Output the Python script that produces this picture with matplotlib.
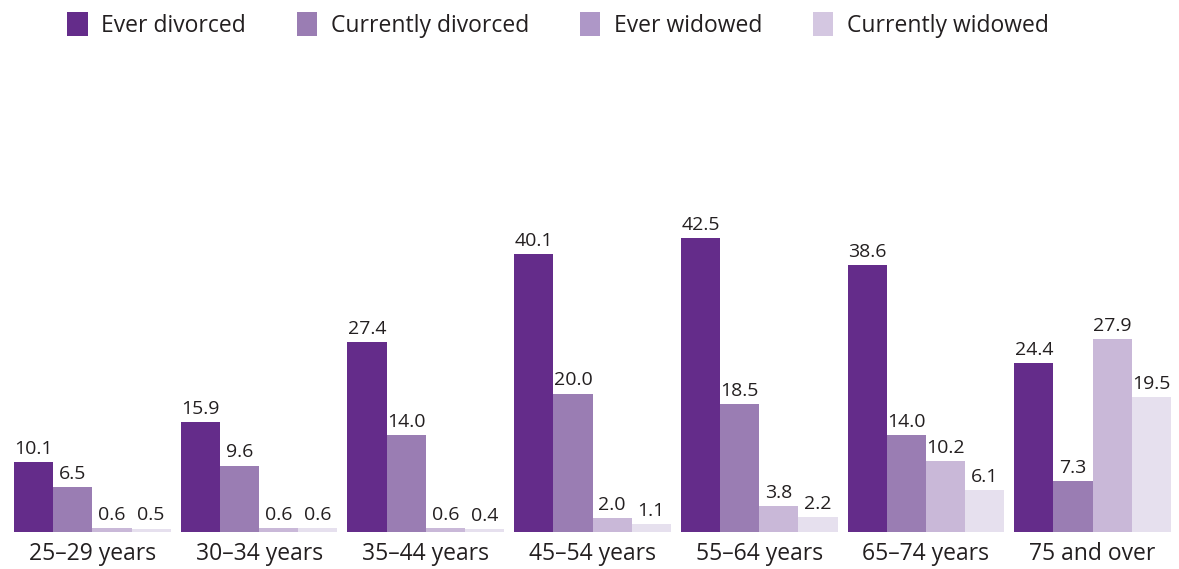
import numpy as np
import matplotlib
matplotlib.use("Agg")
import matplotlib.pyplot as plt
from matplotlib.patches import Patch

plt.rcParams['font.family'] = ['Open Sans', 'DejaVu Sans']

# Data
age_groups = ["25–29 years", "30–34 years", "35–44 years", "45–54 years",
              "55–64 years", "65–74 years", "75 and over"]
series_names = ["Ever divorced", "Currently divorced", "Ever widowed", "Currently widowed"]
ever_divorced = [10.1, 15.9, 27.4, 40.1, 42.5, 38.6, 24.4]
currently_divorced = [6.5, 9.6, 14.0, 20.0, 18.5, 14.0, 7.3]
ever_widowed = [0.6, 0.6, 0.6, 2.0, 3.8, 10.2, 27.9]
currently_widowed = [0.5, 0.6, 0.4, 1.1, 2.2, 6.1, 19.5]

bar_colors = ["#642c8a", "#9a7db3", "#c9b8d8", "#e6e0ee"]
legend_colors = ["#642c8a", "#9a7db3", "#ae97c7", "#d4c7e1"]
text_color = "#231f20"

fig = plt.figure(figsize=(11.79, 5.69), dpi=100)
ax = fig.add_axes([14 / 1179, 37 / 569, 1157 / 1179, 472 / 569])

x = np.arange(len(age_groups))
width = 0.235
all_series = [ever_divorced, currently_divorced, ever_widowed, currently_widowed]
for i, vals in enumerate(all_series):
    pos = x + (i - 1.5) * width
    ax.bar(pos, vals, width=width, color=bar_colors[i], linewidth=0)
    for p, v in zip(pos, vals):
        ax.annotate(f"{v:.1f}", (p, v), xytext=(0, 3), textcoords="offset points",
                    ha="center", va="bottom", fontsize=14, color=text_color)

ax.set_xlim(-0.47, len(age_groups) - 0.53)
ax.set_ylim(0, 68.2)
ax.set_xticks(x)
ax.set_xticklabels(age_groups, fontsize=16.5, color=text_color)
ax.tick_params(axis="x", length=0, pad=7)
ax.set_yticks([])
for s in ax.spines.values():
    s.set_visible(False)

handles = [Patch(facecolor=c, edgecolor="none") for c in legend_colors]
fig.legend(handles, series_names, loc="upper center", bbox_to_anchor=(558 / 1179, 1.015),
           ncol=4, frameon=False, fontsize=16.5, handlelength=0.9, handleheight=1.2,
           columnspacing=2.2, handletextpad=0.6, labelcolor=text_color)

fig.savefig("out.png", dpi=100)
